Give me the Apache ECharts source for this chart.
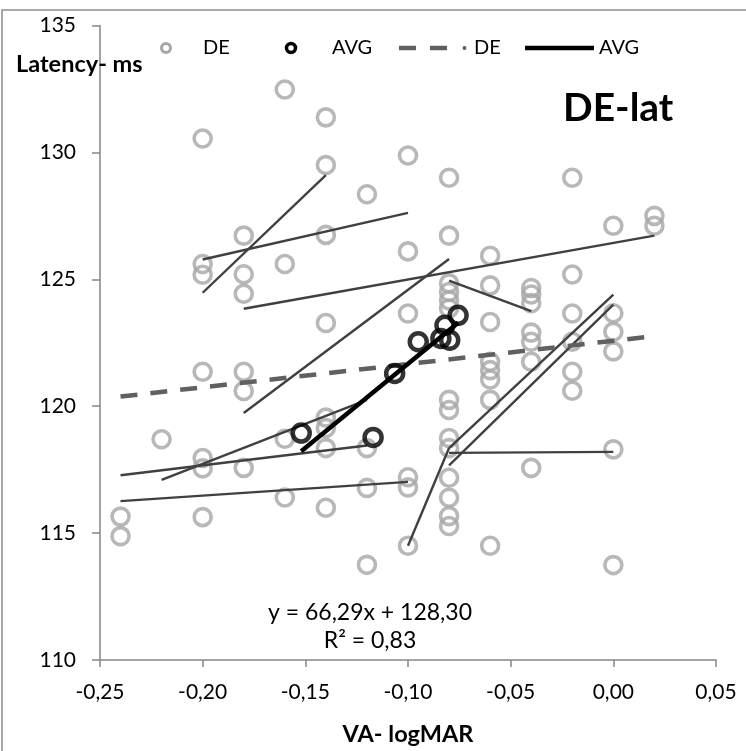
<!DOCTYPE html>
<html>
<head>
<meta charset="utf-8">
<script src="https://cdn.jsdelivr.net/npm/echarts@6/dist/echarts.min.js"></script>
<style>
  html, body { margin: 0; padding: 0; background: #fff; }
  #chart { width: 746px; height: 751px; }
</style>
</head>
<body>
<div id="chart"></div>
<script>
// Individual DE measurements: latency (ms) against visual acuity (logMAR)
const deX = [
  -0.24, -0.24,
  -0.22,
  -0.20, -0.20, -0.20, -0.20, -0.20, -0.20, -0.20,
  -0.18, -0.18, -0.18, -0.18, -0.18, -0.18,
  -0.16, -0.16, -0.16, -0.16,
  -0.14, -0.14, -0.14, -0.14, -0.14, -0.14, -0.14, -0.14,
  -0.12, -0.12, -0.12, -0.12,
  -0.10, -0.10, -0.10, -0.10, -0.10, -0.10,
  -0.08, -0.08, -0.08, -0.08, -0.08, -0.08, -0.08, -0.08, -0.08, -0.08, -0.08, -0.08, -0.08, -0.08,
  -0.06, -0.06, -0.06, -0.06, -0.06, -0.06, -0.06, -0.06,
  -0.04, -0.04, -0.04, -0.04, -0.04, -0.04, -0.04,
  -0.02, -0.02, -0.02, -0.02, -0.02, -0.02,
  0.00, 0.00, 0.00, 0.00, 0.00, 0.00,
  0.02, 0.02
];
const deY = [
  115.65, 114.88,
  118.70,
  130.55, 125.60, 125.18, 121.36, 117.96, 117.55, 115.63,
  126.72, 125.20, 124.43, 121.36, 120.60, 117.57,
  132.48, 125.60, 118.72, 116.40,
  131.38, 129.50, 126.75, 123.28, 119.55, 119.14, 118.35, 116.00,
  128.35, 118.35, 116.78, 113.75,
  129.88, 126.10, 123.65, 117.20, 116.80, 114.50,
  129.00, 126.72, 124.84, 124.50, 124.17, 123.85, 120.25, 119.85, 118.75, 118.35, 117.18, 116.39, 115.67, 115.28,
  125.93, 124.76, 123.32, 121.75, 121.42, 121.05, 120.25, 114.50,
  124.66, 124.40, 124.06, 122.90, 122.54, 121.75, 117.57,
  129.00, 125.19, 123.65, 122.54, 121.36, 120.61,
  127.11, 123.66, 122.93, 122.16, 118.30, 113.74,
  127.50, 127.11
];

// Group averages
const avgX = [-0.152, -0.117, -0.1065, -0.095, -0.084, -0.082, -0.0797, -0.0756];
const avgY = [118.94, 118.77, 121.29, 122.54, 122.67, 123.19, 122.60, 123.58];

// Per-subject fitted lines: [x1, y1, x2, y2]
const subjectLines = [
  [-0.20, 124.47, -0.14, 129.10],
  [-0.20, 125.78, -0.10, 127.62],
  [-0.18, 123.84,  0.02, 126.72],
  [-0.18, 119.73, -0.08, 125.80],
  [-0.08, 124.95, -0.04, 123.75],
  [-0.24, 117.28, -0.12, 118.45],
  [-0.22, 117.10, -0.12, 120.25],
  [-0.24, 116.26, -0.10, 117.02],
  [-0.10, 114.50, -0.08, 118.35],
  [-0.08, 118.35,  0.00, 124.40],
  [-0.08, 117.67,  0.00, 124.00],
  [-0.08, 118.16,  0.00, 118.20]
];

// Linear trend of all DE measurements (end points)
const deTrend = [[-0.24, 120.38], [0.02, 122.76]];

// Linear trend of the averages, as printed on the chart
const avgSlope = 66.29;
const avgIntercept = 128.30;
const avgR2 = 0.83;

// Axis ticks
const xTicks = { min: -0.25, max: 0.05, step: 0.05 };
const yTicks = { min: 110, max: 135, step: 5 };

const comma = (v, d) => v.toFixed(d).replace('.', ',');
const fmtX = v => comma(Math.abs(v) < 1e-9 ? 0 : v, 2);

const FONT = 'Lato, "Open Sans", sans-serif';

const chart = echarts.init(document.getElementById('chart'), null, { renderer: 'canvas' });

const avgLineX = [Math.min(...avgX), Math.max(...avgX)];
const avgLine = avgLineX.map(x => [x, avgSlope * x + avgIntercept]);

const series = [
  {
    name: 'DE',
    type: 'scatter',
    data: deX.map((x, i) => [x, deY[i]]),
    symbol: 'circle',
    symbolSize: 17,
    itemStyle: { color: 'rgba(0,0,0,0)', borderColor: '#a6a6a6', borderWidth: 3.6 },
    z: 1,
    silent: true
  }
];
subjectLines.forEach((s, i) => {
  series.push({
    name: 'subject' + i,
    type: 'line',
    data: [[s[0], s[1]], [s[2], s[3]]],
    showSymbol: false,
    lineStyle: { color: '#404040', width: 2.4 },
    z: 2,
    silent: true
  });
});
series.push({
  name: 'DE trend',
  type: 'line',
  data: deTrend,
  showSymbol: false,
  lineStyle: { color: '#606060', width: 4.5, type: [17, 13] },
  z: 3,
  silent: true
});
series.push({
  name: 'AVG trend',
  type: 'line',
  data: avgLine,
  showSymbol: false,
  lineStyle: { color: '#000', width: 4.5 },
  z: 4,
  silent: true
});
series.push({
  name: 'AVG',
  type: 'scatter',
  data: avgX.map((x, i) => [x, avgY[i]]),
  symbol: 'circle',
  symbolSize: 17,
  itemStyle: { color: 'rgba(0,0,0,0)', borderColor: '#000', borderWidth: 4.5 },
  z: 5,
  silent: true
});

const legendY = 48;
const legendFont = { fontSize: 20, fontFamily: FONT, fill: '#000' };

chart.setOption({
  animation: false,
  backgroundColor: '#fff',
  grid: { left: 100, right: 30, top: 25.5, bottom: 88, containLabel: false },
  title: {
    text: 'DE-lat',
    left: 558,
    top: 84,
    textStyle: { fontSize: 39, fontWeight: 'bold', fontFamily: FONT, color: '#000' }
  },
  xAxis: {
    type: 'value',
    min: xTicks.min,
    max: xTicks.max,
    interval: xTicks.step,
    name: 'VA- logMAR',
    nameLocation: 'middle',
    nameGap: 62,
    nameTextStyle: { fontSize: 23.5, fontWeight: 'bold', fontFamily: FONT, color: '#000' },
    axisLine: { show: true, onZero: false, lineStyle: { color: '#868686', width: 1.5 } },
    axisTick: { show: true, length: 7, lineStyle: { color: '#868686', width: 1.5 } },
    axisLabel: { formatter: fmtX, fontSize: 21, fontFamily: FONT, color: '#000', margin: 22 },
    splitLine: { show: false }
  },
  yAxis: {
    type: 'value',
    min: yTicks.min,
    max: yTicks.max,
    interval: yTicks.step,
    axisLine: { show: true, onZero: false, lineStyle: { color: '#868686', width: 1.5 } },
    axisTick: { show: true, length: 8, lineStyle: { color: '#868686', width: 1.5 } },
    axisLabel: { fontSize: 21, fontFamily: FONT, color: '#000', margin: 24 },
    splitLine: { show: false }
  },
  series: series,
  graphic: [
    // outer chart frame
    { type: 'rect', shape: { x: 2, y: 10, width: 780, height: 780 },
      style: { fill: 'none', stroke: '#8c8c8c', lineWidth: 1.5 }, z: 0 },
    // y-axis title
    { type: 'text', x: 16, y: 64,
      style: { text: 'Latency- ms', verticalAlign: 'middle', fontSize: 23.5, fontWeight: 'bold', fontFamily: FONT, fill: '#000' }, z: 10 },
    // legend: DE points
    { type: 'circle', shape: { cx: 166, cy: legendY, r: 4.5 },
      style: { fill: 'none', stroke: '#a6a6a6', lineWidth: 3 }, z: 10 },
    { type: 'text', x: 203, y: legendY,
      style: Object.assign({ text: 'DE', verticalAlign: 'middle' }, legendFont), z: 10 },
    // legend: AVG points
    { type: 'circle', shape: { cx: 291, cy: legendY, r: 4.5 },
      style: { fill: 'none', stroke: '#000', lineWidth: 3.5 }, z: 10 },
    { type: 'text', x: 332, y: legendY,
      style: Object.assign({ text: 'AVG', verticalAlign: 'middle' }, legendFont), z: 10 },
    // legend: DE trend
    { type: 'line', shape: { x1: 399, y1: legendY, x2: 416, y2: legendY },
      style: { stroke: '#606060', lineWidth: 4.5 }, z: 10 },
    { type: 'line', shape: { x1: 430, y1: legendY, x2: 447, y2: legendY },
      style: { stroke: '#606060', lineWidth: 4.5 }, z: 10 },
    { type: 'circle', shape: { cx: 464.5, cy: legendY, r: 2 },
      style: { fill: '#606060' }, z: 10 },
    { type: 'text', x: 474, y: legendY,
      style: Object.assign({ text: 'DE', verticalAlign: 'middle' }, legendFont), z: 10 },
    // legend: AVG trend
    { type: 'line', shape: { x1: 525, y1: legendY, x2: 594, y2: legendY },
      style: { stroke: '#000', lineWidth: 4.5 }, z: 10 },
    { type: 'text', x: 599, y: legendY,
      style: Object.assign({ text: 'AVG', verticalAlign: 'middle' }, legendFont), z: 10 },
    // trend equation of the averages
    { type: 'text', x: 370, y: 613,
      style: { text: 'y = ' + comma(avgSlope, 2) + 'x + ' + comma(avgIntercept, 2),
               align: 'center', verticalAlign: 'middle', fontSize: 23, fontFamily: FONT, fill: '#000' }, z: 10 },
    { type: 'text', x: 370, y: 641,
      style: { text: 'R² = ' + comma(avgR2, 2),
               align: 'center', verticalAlign: 'middle', fontSize: 23, fontFamily: FONT, fill: '#000' }, z: 10 }
  ]
});
</script>
</body>
</html>
